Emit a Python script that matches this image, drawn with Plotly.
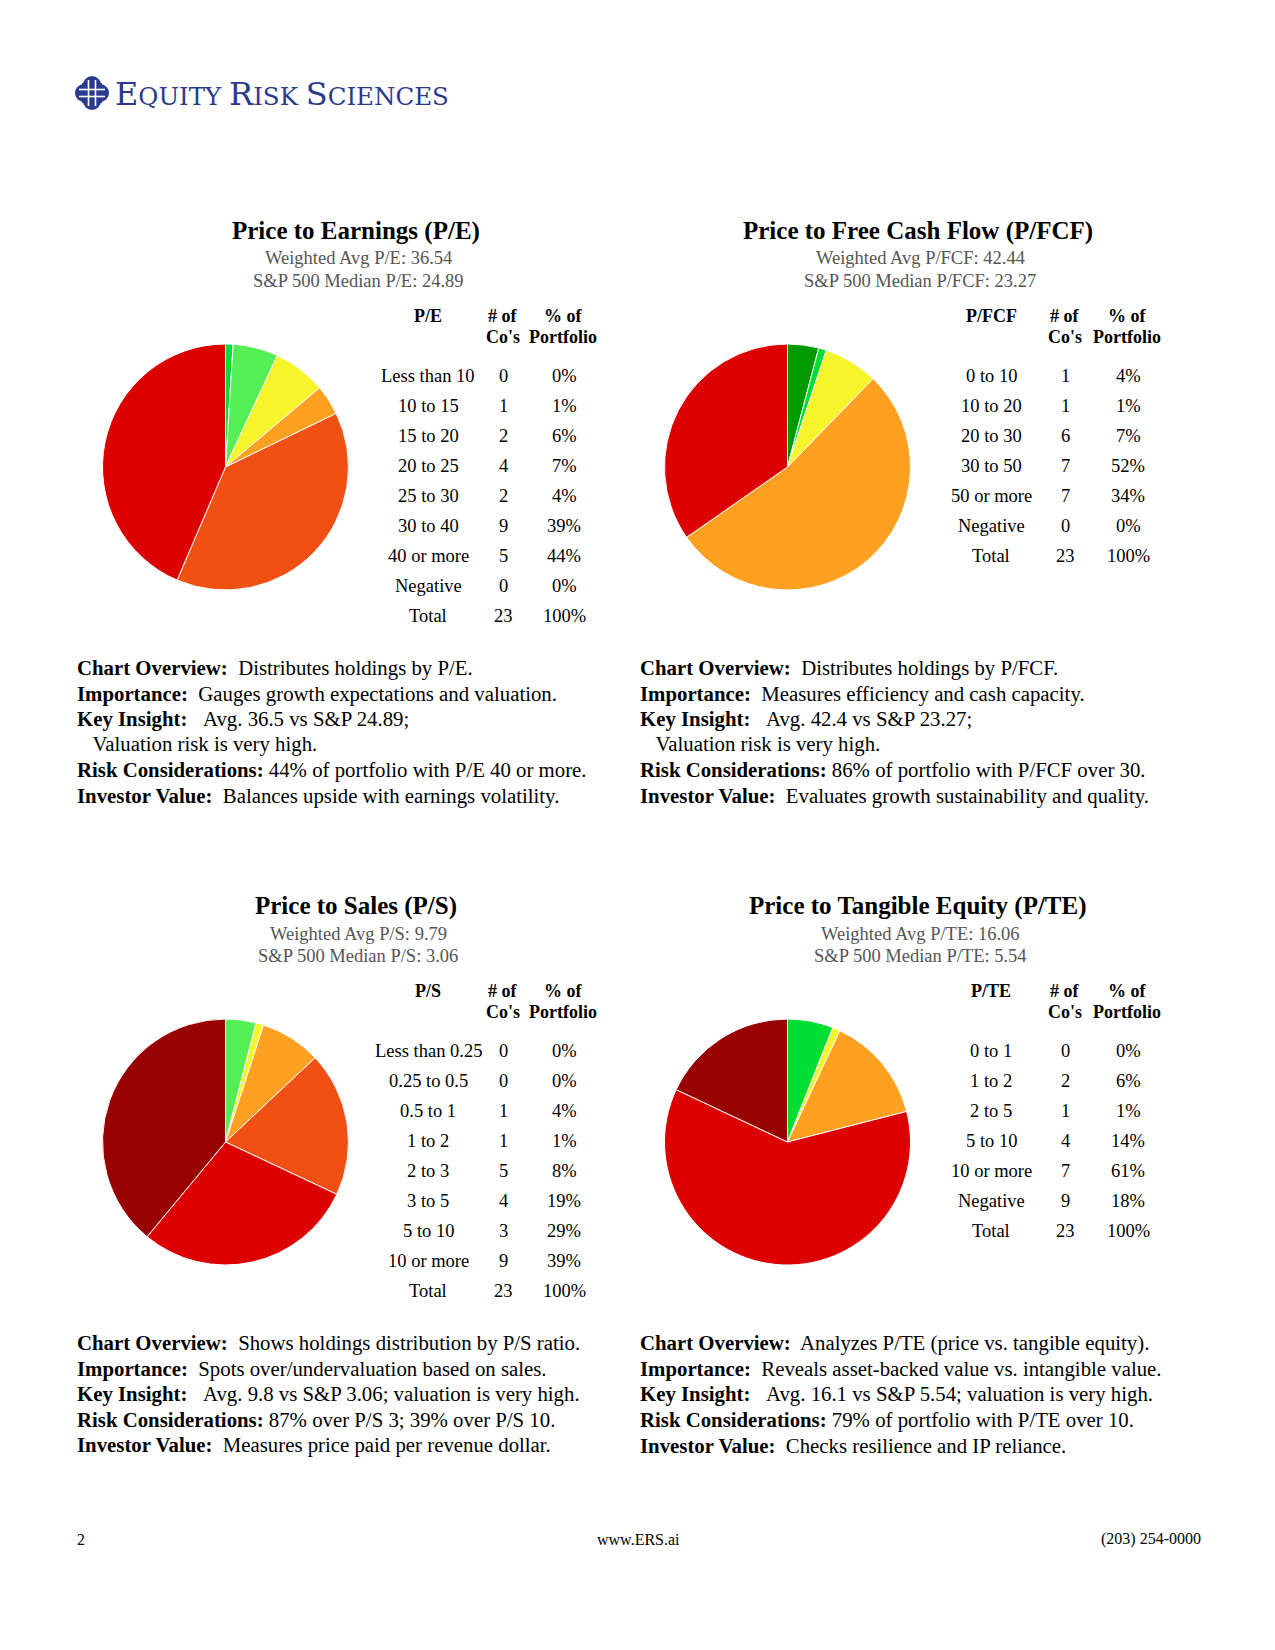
import plotly.graph_objects as go

PAGE_W, PAGE_H = 1275, 1650
OFF = 8                      # default body margin of the html page
W, H = PAGE_W - 2 * OFF, PAGE_H - 2 * OFF
SERIF = "Liberation Serif, Times New Roman, serif"
NAVY = "#2B3A8C"

# ---------------- data ----------------
DG, BG, LG, YE, OR, OR2, RD, DR = ("#009A00", "#00DD33", "#55EE55", "#F5F52A",
                                   "#FFA020", "#F05014", "#DD0000", "#990000")

pe_labels = ["Less than 10", "10 to 15", "15 to 20", "20 to 25", "25 to 30",
             "30 to 40", "40 or more", "Negative"]
pe_counts = [0, 1, 2, 4, 2, 9, 5, 0]
pe_pcts = [0, 1, 6, 7, 4, 39, 44, 0]
pe_colors = [DG, BG, LG, YE, OR, OR2, RD, DR]

pfcf_labels = ["0 to 10", "10 to 20", "20 to 30", "30 to 50", "50 or more", "Negative"]
pfcf_counts = [1, 1, 6, 7, 7, 0]
pfcf_pcts = [4, 1, 7, 52, 34, 0]
pfcf_colors = [DG, BG, YE, OR, RD, DR]

ps_labels = ["Less than 0.25", "0.25 to 0.5", "0.5 to 1", "1 to 2", "2 to 3",
             "3 to 5", "5 to 10", "10 or more"]
ps_counts = [0, 0, 1, 1, 5, 4, 3, 9]
ps_pcts = [0, 0, 4, 1, 8, 19, 29, 39]
ps_colors = [DG, BG, LG, YE, OR, OR2, RD, DR]

pte_labels = ["0 to 1", "1 to 2", "2 to 5", "5 to 10", "10 or more", "Negative"]
pte_counts = [0, 2, 1, 4, 7, 9]
pte_pcts = [0, 6, 1, 14, 61, 18]
pte_colors = [DG, BG, YE, OR, RD, DR]

total_counts = ["23", "23", "23", "23"]
total_pcts = ["100%", "100%", "100%", "100%"]

titles = ["Price to Earnings (P/E)", "Price to Free Cash Flow (P/FCF)",
          "Price to Sales (P/S)", "Price to Tangible Equity (P/TE)"]
metric_names = ["P/E", "P/FCF", "P/S", "P/TE"]
weighted_avgs = ["36.54", "42.44", "9.79", "16.06"]
sp500_medians = ["24.89", "23.27", "3.06", "5.54"]

pe_notes = [("Chart Overview:", "\u00a0 Distributes holdings by P/E."),
            ("Importance:", "\u00a0 Gauges growth expectations and valuation."),
            ("Key Insight:", "\u00a0 \u00a0Avg. 36.5 vs S&P 24.89;"),
            ("", "\u00a0 \u00a0Valuation risk is very high."),
            ("Risk Considerations:", " 44% of portfolio with P/E 40 or more."),
            ("Investor Value:", "\u00a0 Balances upside with earnings volatility.")]
pfcf_notes = [("Chart Overview:", "\u00a0 Distributes holdings by P/FCF."),
              ("Importance:", "\u00a0 Measures efficiency and cash capacity."),
              ("Key Insight:", "\u00a0 \u00a0Avg. 42.4 vs S&P 23.27;"),
              ("", "\u00a0 \u00a0Valuation risk is very high."),
              ("Risk Considerations:", " 86% of portfolio with P/FCF over 30."),
              ("Investor Value:", "\u00a0 Evaluates growth sustainability and quality.")]
ps_notes = [("Chart Overview:", "\u00a0 Shows holdings distribution by P/S ratio."),
            ("Importance:", "\u00a0 Spots over/undervaluation based on sales."),
            ("Key Insight:", "\u00a0 \u00a0Avg. 9.8 vs S&P 3.06; valuation is very high."),
            ("Risk Considerations:", " 87% over P/S 3; 39% over P/S 10."),
            ("Investor Value:", "\u00a0 Measures price paid per revenue dollar.")]
pte_notes = [("Chart Overview:", "\u00a0 Analyzes P/TE (price vs. tangible equity)."),
             ("Importance:", "\u00a0 Reveals asset-backed value vs. intangible value."),
             ("Key Insight:", "\u00a0 \u00a0Avg. 16.1 vs S&P 5.54; valuation is very high."),
             ("Risk Considerations:", " 79% of portfolio with P/TE over 10."),
             ("Investor Value:", "\u00a0 Checks resilience and IP reliance.")]

# ---------------- layout helpers (page pixel -> paper) ----------------
def px(x):
    return (x - OFF) / W


def py(y):
    return 1 - (y - OFF) / H


annotations = []


def txt(x, y, s, size, color="black", xanchor="center", family=SERIF):
    annotations.append(dict(x=px(x), y=py(y), xref="paper", yref="paper", text=s,
                            showarrow=False, xanchor=xanchor, yanchor="middle",
                            font=dict(family=family, size=size, color=color)))


panels = [
    dict(labels=pe_labels, counts=pe_counts, pcts=pe_pcts, colors=pe_colors, notes=pe_notes,
         cx=225.5, cy=467, tx=356, col=(428, 503, 563), left=75, dy=0),
    dict(labels=pfcf_labels, counts=pfcf_counts, pcts=pfcf_pcts, colors=pfcf_colors,
         notes=pfcf_notes, cx=787.5, cy=467, tx=918, col=(991, 1065, 1127), left=638, dy=0),
    dict(labels=ps_labels, counts=ps_counts, pcts=ps_pcts, colors=ps_colors, notes=ps_notes,
         cx=225.5, cy=1142, tx=356, col=(428, 503, 563), left=75, dy=675),
    dict(labels=pte_labels, counts=pte_counts, pcts=pte_pcts, colors=pte_colors,
         notes=pte_notes, cx=787.5, cy=1142, tx=918, col=(991, 1065, 1127), left=638, dy=675),
]

fig = go.Figure()
R = 123
for i, p in enumerate(panels):
    fig.add_trace(go.Pie(
        labels=p["labels"], values=p["pcts"], sort=False, direction="clockwise",
        rotation=0, textinfo="none", hoverinfo="label+percent", showlegend=False,
        marker=dict(colors=p["colors"], line=dict(color="white", width=1)),
        domain=dict(x=[px(p["cx"] - R), px(p["cx"] + R)],
                    y=[py(p["cy"] + R), py(p["cy"] - R)])))
    dy = p["dy"]
    # titles
    txt(p["tx"], 231 + dy, "<b>" + titles[i] + "</b>", 25)
    txt(p["tx"] + 2, 258.5 + dy, "Weighted Avg %s: %s" % (metric_names[i], weighted_avgs[i]),
        18.5, color="#555555")
    txt(p["tx"] + 2, 280.5 + dy, "S&P 500 Median %s: %s" % (metric_names[i], sp500_medians[i]),
        18.5, color="#555555")
    # table
    c0, c1, c2 = p["col"]
    txt(c0, 316 + dy, "<b>" + metric_names[i] + "</b>", 18)
    txt(c1, 316 + dy, "<b># of</b>", 18)
    txt(c1, 337 + dy, "<b>Co's</b>", 18)
    txt(c2, 316 + dy, "<b>% of</b>", 18)
    txt(c2, 337 + dy, "<b>Portfolio</b>", 18)
    rows = list(zip(p["labels"], [str(c) for c in p["counts"]], ["%d%%" % v for v in p["pcts"]]))
    rows.append(("Total", total_counts[i], total_pcts[i]))
    for j, (a, b, c) in enumerate(rows):
        y = 376 + dy + 30 * j
        txt(c0, y, a, 18.5)
        txt(c1, y, b, 18.5)
        txt(c2 + 1, y, c, 18.5)
    # notes
    for j, (bl, rest) in enumerate(p["notes"]):
        y = 668 + dy + 25.5 * j
        s = ("<b>" + bl + "</b>" if bl else "") + rest
        txt(p["left"], y, s, 20.8, xanchor="left")

# logo text
logo = ('<span style="font-size:32px">E</span>QUITY '
        '<span style="font-size:32px">R</span>ISK '
        '<span style="font-size:32px">S</span>CIENCES')
txt(113, 94, logo, 24.5, color=NAVY, xanchor="left", family="DejaVu Serif, serif")

# footer
txt(75, 1539, "2", 16, xanchor="left")
txt(638.5, 1539, "www.ERS.ai", 16)
annotations.append(dict(x=px(1203), y=py(1539), xref="paper", yref="paper",
                        text="(203) 254-0000", showarrow=False, xanchor="right",
                        yanchor="middle", font=dict(family=SERIF, size=16, color="black")))

# logo icon (knot-like emblem)
shapes = []
ic_x, ic_y = 92, 93
for ox, oy in [(-8, 0), (8, 0), (0, -8), (0, 8)]:
    shapes.append(dict(type="circle", xref="paper", yref="paper",
                       x0=px(ic_x + ox - 9), x1=px(ic_x + ox + 9),
                       y0=py(ic_y + oy + 9), y1=py(ic_y + oy - 9),
                       fillcolor=NAVY, line=dict(width=0)))
shapes.append(dict(type="rect", xref="paper", yref="paper",
                   x0=px(ic_x - 10), x1=px(ic_x + 10), y0=py(ic_y + 10), y1=py(ic_y - 10),
                   fillcolor=NAVY, line=dict(width=0)))
for d in (-3.5, 3.5):
    shapes.append(dict(type="line", xref="paper", yref="paper",
                       x0=px(ic_x + d), x1=px(ic_x + d), y0=py(ic_y + 13), y1=py(ic_y - 13),
                       line=dict(color="white", width=1.6)))
    shapes.append(dict(type="line", xref="paper", yref="paper",
                       x0=px(ic_x - 13), x1=px(ic_x + 13), y0=py(ic_y + d), y1=py(ic_y + d),
                       line=dict(color="white", width=1.6)))

fig.update_layout(width=W, height=H, margin=dict(l=0, r=0, t=0, b=0),
                  paper_bgcolor="white", plot_bgcolor="white",
                  annotations=annotations, shapes=shapes,
                  font=dict(family=SERIF))
fig.write_html("out.html")
